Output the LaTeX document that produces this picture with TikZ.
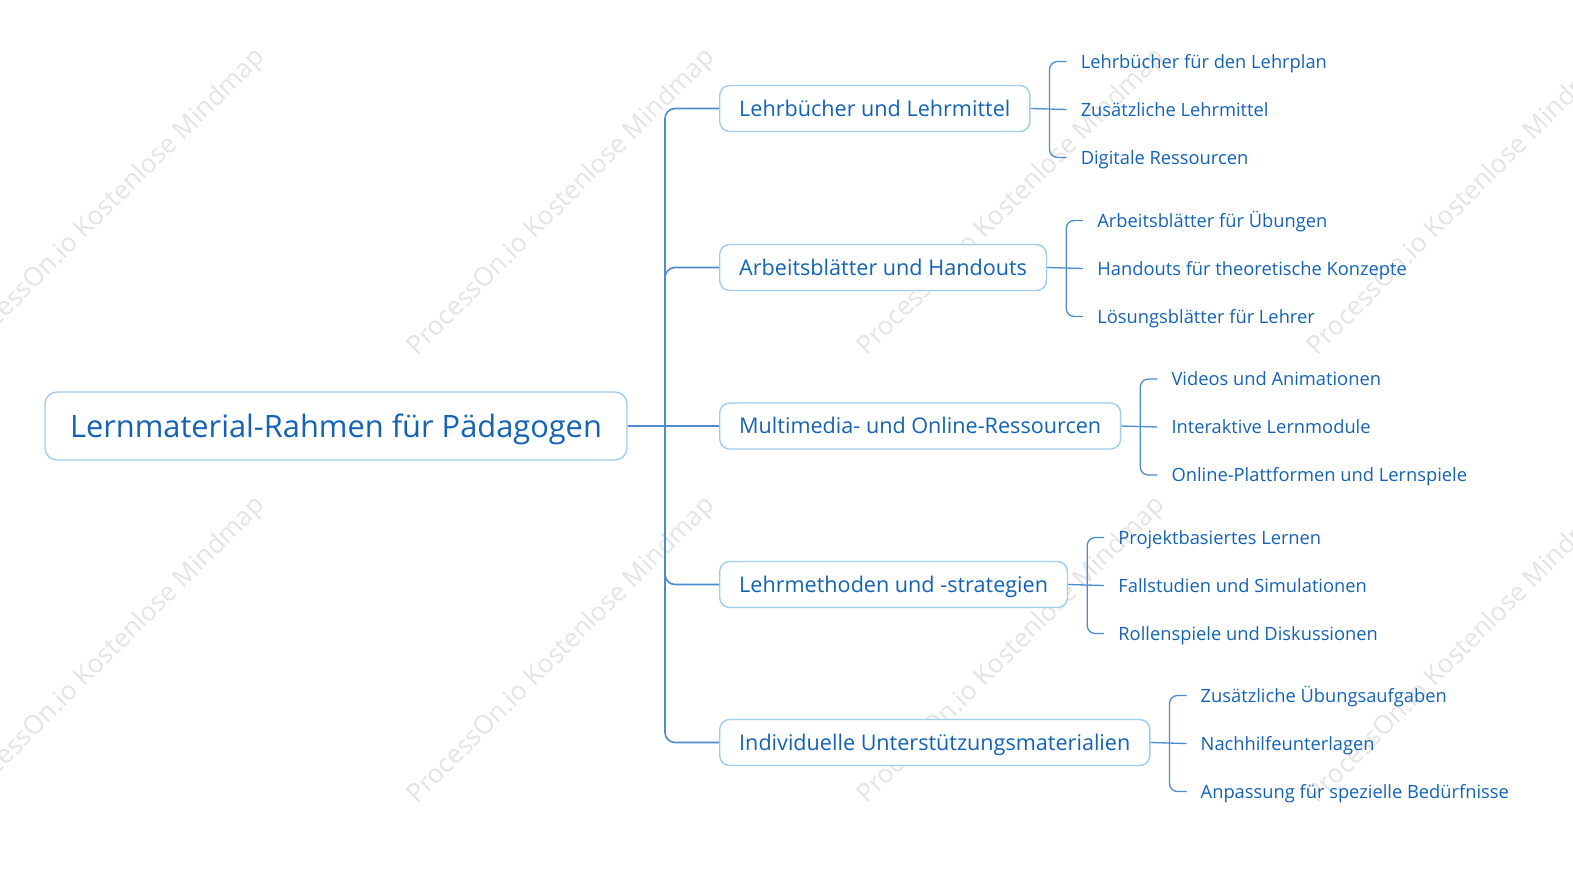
\documentclass[tikz,border=0pt]{standalone}
\usepackage{fontspec}
\setmainfont{Open Sans}
\usetikzlibrary{calc}
\definecolor{txtc}{RGB}{20,98,182}
\definecolor{linec}{RGB}{78,138,206}
\definecolor{boxc}{RGB}{160,205,235}
\definecolor{wmc}{RGB}{228,228,228}
\begin{document}
\begin{tikzpicture}[x=1pt,y=-1pt,
  rootbox/.style={draw=boxc,line width=1.4pt,rounded corners=12pt,fill=white,text=txtc,
    minimum width=582pt,minimum height=68pt,font=\fontsize{30.8}{36}\selectfont,
    text height=22pt,text depth=0pt},
  topic/.style={draw=boxc,line width=1.4pt,rounded corners=10pt,fill=white,text=txtc,
    inner xsep=19.5pt,minimum height=46pt,anchor=west,font=\fontsize{21.6}{25}\selectfont,
    text height=15.4pt,text depth=0pt},
  leaf/.style={text=txtc,inner xsep=14pt,inner ysep=2pt,anchor=west,font=\fontsize{18.3}{22}\selectfont,
    text height=13.1pt,text depth=0pt},
  conn/.style={draw=linec,line width=1.3pt},
  wm/.style={text=wmc,rotate=45,font=\fontsize{26}{30}\selectfont}
]
\useasboundingbox (0,0) rectangle (1573,870);
% watermarks
\foreach \wx in {112,562,1012,1462}{
  \foreach \wy in {203,651}{
    \node[wm] at (\wx,\wy) {ProcessOn.io Kostenlose Mindmap};
  }
}
% root
\node[rootbox] (root) at (336,426) {Lernmaterial-Rahmen für Pädagogen};
\coordinate (tr) at (665,426);
% topics
\node[topic] (b1) at (719,108.5) {Lehrbücher und Lehrmittel};
\node[topic] (b2) at (719,267.5) {Arbeitsblätter und Handouts};
\node[topic] (b3) at (719,426) {Multimedia- und Online-Ressourcen};
\node[topic] (b4) at (719,584.5) {Lehrmethoden und -strategien};
\node[topic] (b5) at (719,742.5) {Individuelle Unterstützungsmaterialien};
% trunk connectors
\draw[conn,line width=2.6pt] (root.east) -- (tr);
\draw[conn,line width=1.6pt] (b3.west) -- (tr);
\foreach \b in {b1,b2,b4,b5}{
  \draw[conn,line width=1.6pt,rounded corners=10pt] (\b.west) -| (tr);
}
% leaves
\newcommand\leafgroup[4]{%
  \coordinate (k#1) at ($(#1.east)+(19,0)$);
  \node[leaf] (#1a) at ($(#1.east)+(36,-47)$) {#2};
  \node[leaf] (#1b) at ($(#1.east)+(36,1)$) {#3};
  \node[leaf] (#1c) at ($(#1.east)+(36,49)$) {#4};
  \draw[conn] (#1.east) -- (#1b.west);
  \draw[conn,rounded corners=8pt] (#1a.west) -| (k#1);
  \draw[conn,rounded corners=8pt] (#1c.west) -| (k#1);
}
\leafgroup{b1}{Lehrbücher für den Lehrplan}{Zusätzliche Lehrmittel}{Digitale Ressourcen}
\leafgroup{b2}{Arbeitsblätter für Übungen}{Handouts für theoretische Konzepte}{Lösungsblätter für Lehrer}
\leafgroup{b3}{Videos und Animationen}{Interaktive Lernmodule}{Online-Plattformen und Lernspiele}
\leafgroup{b4}{Projektbasiertes Lernen}{Fallstudien und Simulationen}{Rollenspiele und Diskussionen}
\leafgroup{b5}{Zusätzliche Übungsaufgaben}{Nachhilfeunterlagen}{Anpassung für spezielle Bedürfnisse}
\end{tikzpicture}
\end{document}
